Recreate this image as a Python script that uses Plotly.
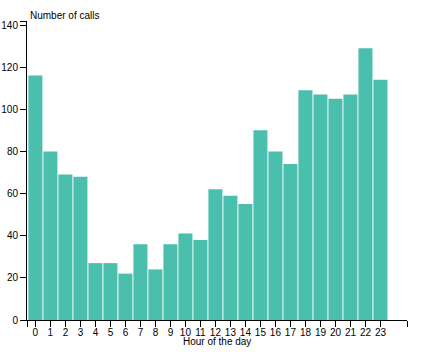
import plotly.graph_objects as go

hours = list(range(24))
hour_labels = [str(h) for h in hours]
calls = [116, 80, 69, 68, 27, 27, 22, 36, 24, 36, 41, 38,
         62, 59, 55, 90, 80, 74, 109, 107, 105, 107, 129, 114]
y_ticks = [0, 20, 40, 60, 80, 100, 120, 140]

bar_color = "#4bbfad"
font = dict(family="Liberation Sans, Arial, sans-serif", size=10, color="#000")

y_max = max(calls) * 1.1
x_lo, x_hi = -0.56, 24.77

fig = go.Figure(go.Bar(
    x=hours, y=calls, width=0.935,
    marker=dict(color=bar_color, line=dict(width=0)),
    hoverinfo="skip",
))

fig.update_layout(
    width=426, height=354,
    margin=dict(l=27.3, r=18.7, t=20.7, b=34, autoexpand=False),
    paper_bgcolor="white", plot_bgcolor="white",
    font=font, showlegend=False,
    xaxis=dict(
        range=[x_lo, x_hi], automargin=False,
        tickvals=[x_lo] + hours + [x_hi],
        ticktext=[""] + hour_labels + [""],
        ticks="outside", ticklen=6, tickcolor="#000", tickwidth=1,
        ticklabelstandoff=-3,
        showline=True, linecolor="#000", linewidth=1,
        showgrid=False, zeroline=False, tickfont=font,
    ),
    yaxis=dict(
        range=[0, y_max], automargin=False,
        tickvals=y_ticks + [y_max],
        ticktext=[str(v) for v in y_ticks] + [""],
        ticks="outside", ticklen=6, tickcolor="#000", tickwidth=1,
        showline=True, linecolor="#000", linewidth=1,
        showgrid=False, zeroline=False, tickfont=font,
    ),
    annotations=[
        dict(text="Hour of the day", xref="paper", yref="paper", x=0.5, y=0,
             xanchor="center", yanchor="middle", yshift=-21,
             showarrow=False, font=font),
        dict(text="Number of calls", xref="paper", yref="paper", x=0, y=1,
             xanchor="left", yanchor="middle", xshift=1, yshift=6,
             showarrow=False, font=font),
    ],
)

fig.write_html("out.html")
